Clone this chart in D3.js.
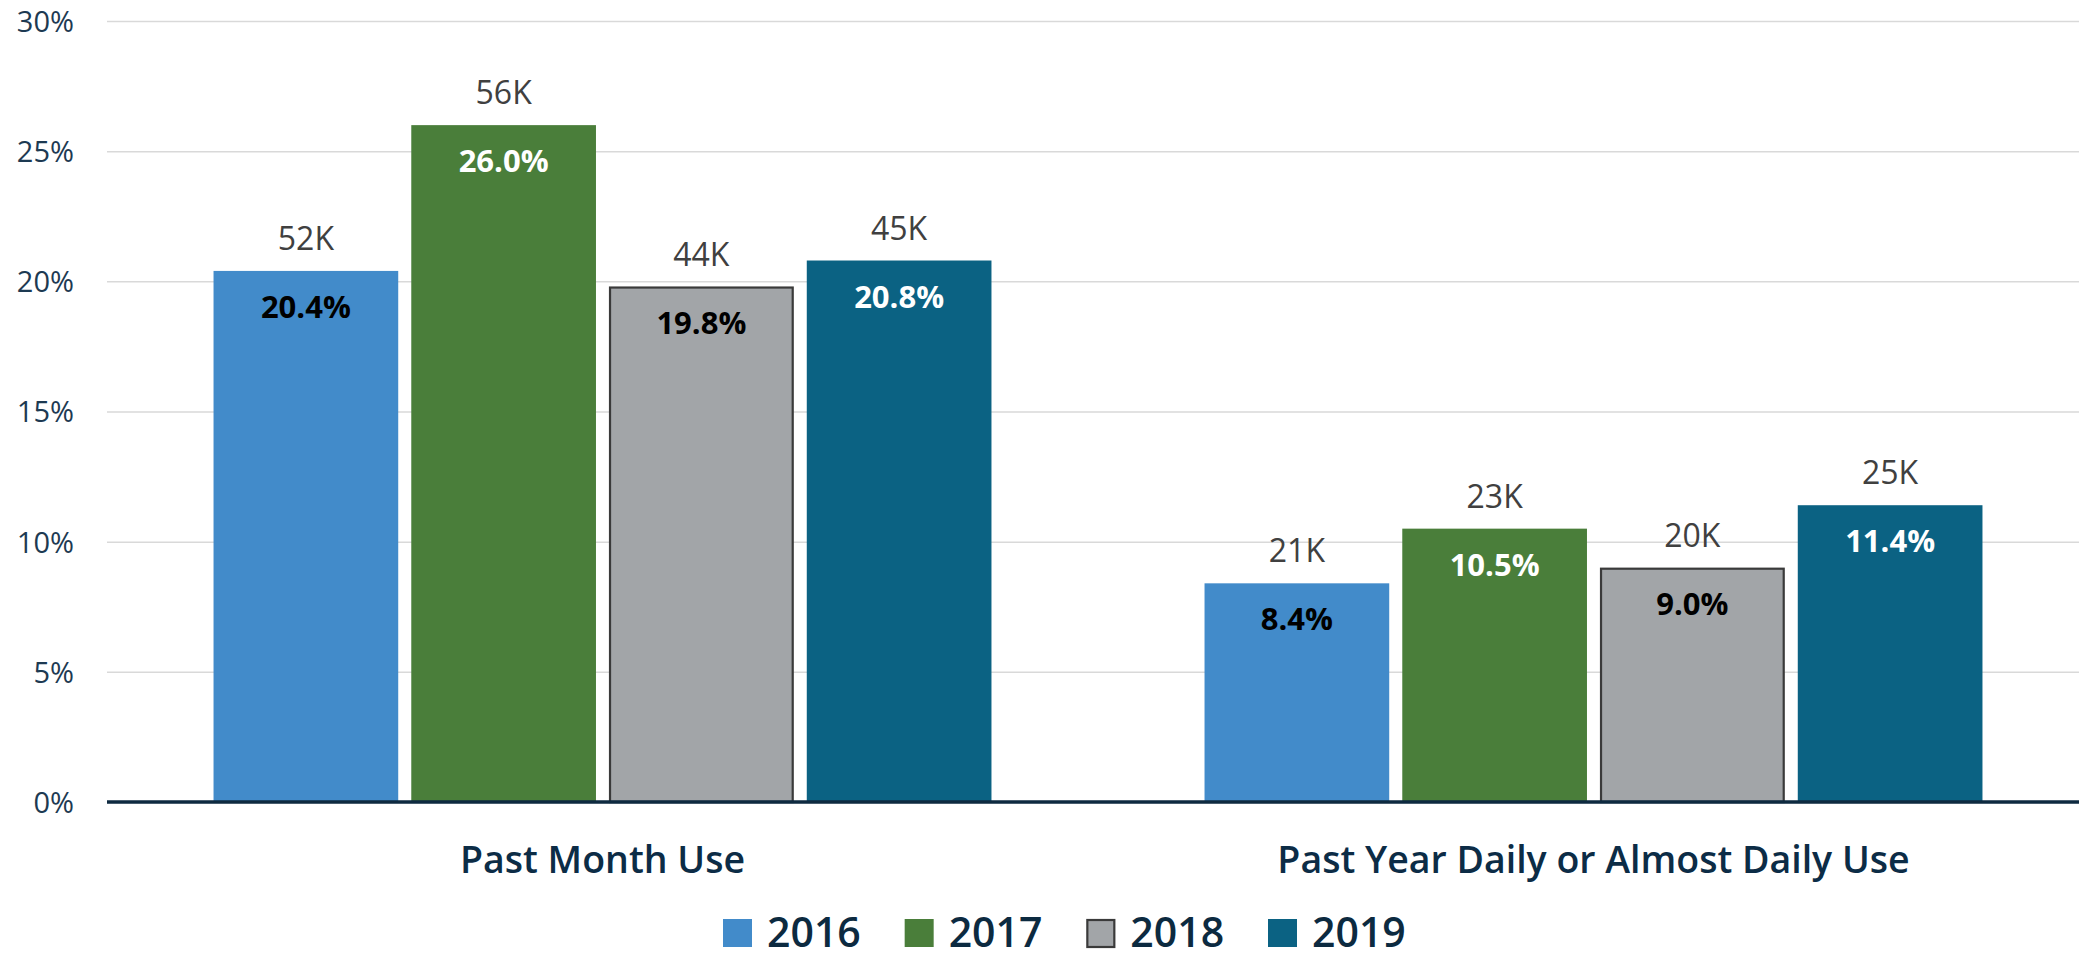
<!DOCTYPE html>
<html>
<head>
<meta charset="utf-8">
<script src="https://cdn.jsdelivr.net/npm/d3@7"></script>
<style>
  html, body { margin: 0; padding: 0; background: #ffffff; }
  svg { display: block; }
  text { font-family: "Open Sans", "Noto Sans", sans-serif; }
</style>
</head>
<body>
<svg id="chart" width="2079" height="959"></svg>
<script>
// ---- data ----
const categories = ["Past Month Use", "Past Year Daily or Almost Daily Use"];
const years = ["2016", "2017", "2018", "2019"];
const pct2016 = [20.4, 8.4];
const pct2017 = [26.0, 10.5];
const pct2018 = [19.8, 9.0];
const pct2019 = [20.8, 11.4];
const count2016 = ["52K", "21K"];
const count2017 = ["56K", "23K"];
const count2018 = ["44K", "20K"];
const count2019 = ["45K", "25K"];
const yTicks = [0, 5, 10, 15, 20, 25, 30];

const pctBySeries = [pct2016, pct2017, pct2018, pct2019];
const countBySeries = [count2016, count2017, count2018, count2019];

// ---- styles ----
const colors = ["#428bca", "#4a7e3a", "#a2a5a8", "#0b6283"];
const strokes = ["none", "none", "#3a3a3a", "none"];
const pctColors = ["#000000", "#ffffff", "#000000", "#ffffff"];

const W = 2079, H = 959;
const mLeft = 107, mRight = 2089, mTop = 21, mBottom = 802;

const svg = d3.select("#chart");
svg.append("rect").attr("width", W).attr("height", H).attr("fill", "#ffffff");

const y = d3.scaleLinear().domain([0, 30]).range([mBottom, mTop]);
const x0 = d3.scaleBand().domain(categories).range([mLeft, mRight])
  .paddingInner(0.215).paddingOuter(0.1075);
const x1 = d3.scaleBand().domain(years).range([0, x0.bandwidth()])
  .paddingInner(0.066);

// gridlines + tick labels
const yAxis = d3.axisLeft(y).tickValues(yTicks)
  .tickFormat(d => d + "%")
  .tickSize(-(W - mLeft)).tickPadding(33);
const gy = svg.append("g").attr("transform", `translate(${mLeft},0)`).call(yAxis);
gy.select(".domain").remove();
gy.selectAll(".tick line").attr("stroke", "#d9d9d9").attr("stroke-width", 1.5);
gy.selectAll(".tick text")
  .attr("fill", "#1d3a52")
  .style("font-size", "29px")
  .style("font-family", '"Open Sans", sans-serif')
  .attr("dy", "0.36em");

// bars
const rows = [];
categories.forEach((c, ci) => {
  years.forEach((yr, si) => {
    rows.push({ cat: c, year: yr, si, v: pctBySeries[si][ci], n: countBySeries[si][ci] });
  });
});

const hasStroke = si => strokes[si] !== "none";

svg.append("g").selectAll("rect").data(rows).enter().append("rect")
  .attr("x", d => x0(d.cat) + x1(d.year) + (hasStroke(d.si) ? 1 : 0))
  .attr("y", d => y(d.v) + (hasStroke(d.si) ? 1 : 0))
  .attr("width", d => x1.bandwidth() - (hasStroke(d.si) ? 2 : 0))
  .attr("height", d => y(0) - y(d.v) - (hasStroke(d.si) ? 1 : 0))
  .attr("fill", d => colors[d.si])
  .attr("stroke", d => strokes[d.si])
  .attr("stroke-width", 2.2);

// axis baseline
svg.append("line")
  .attr("x1", mLeft).attr("x2", W)
  .attr("y1", y(0)).attr("y2", y(0))
  .attr("stroke", "#0e2a40").attr("stroke-width", 3.5);

// count labels above bars
svg.append("g").selectAll("text").data(rows).enter().append("text")
  .attr("x", d => x0(d.cat) + x1(d.year) + x1.bandwidth() / 2)
  .attr("y", d => y(d.v) - 21)
  .attr("text-anchor", "middle")
  .attr("fill", "#404040")
  .style("font-size", "32px")
  .text(d => d.n);

// percentage labels inside bars
svg.append("g").selectAll("text").data(rows).enter().append("text")
  .attr("x", d => x0(d.cat) + x1(d.year) + x1.bandwidth() / 2)
  .attr("y", d => y(d.v) + 47)
  .attr("text-anchor", "middle")
  .attr("fill", d => pctColors[d.si])
  .style("font-size", "31px")
  .style("font-weight", "700")
  .text(d => d.v.toFixed(1) + "%");

// category labels
svg.append("g").selectAll("text").data(categories).enter().append("text")
  .attr("x", d => x0(d) + x0.bandwidth() / 2)
  .attr("y", 873)
  .attr("text-anchor", "middle")
  .attr("fill", "#0c2c46")
  .style("font-size", "37.5px")
  .style("font-weight", "600")
  .text(d => d);

// legend
const legendX = d3.scalePoint().domain(years).range([723, 1268]);
const lg = svg.append("g").selectAll("g").data(years).enter().append("g")
  .attr("transform", d => `translate(${legendX(d)},0)`);
lg.append("rect")
  .attr("x", (d, i) => hasStroke(i) ? 1 : 0)
  .attr("y", (d, i) => 919 + (hasStroke(i) ? 1 : 0))
  .attr("width", (d, i) => hasStroke(i) ? 27 : 29)
  .attr("height", (d, i) => hasStroke(i) ? 27 : 28)
  .attr("fill", (d, i) => colors[i])
  .attr("stroke", (d, i) => strokes[i])
  .attr("stroke-width", 2.2);
lg.append("text")
  .attr("x", 44)
  .attr("y", 947)
  .attr("fill", "#0c2a40")
  .style("font-size", "41px")
  .style("font-weight", "600")
  .text(d => d);
</script>
</body>
</html>
